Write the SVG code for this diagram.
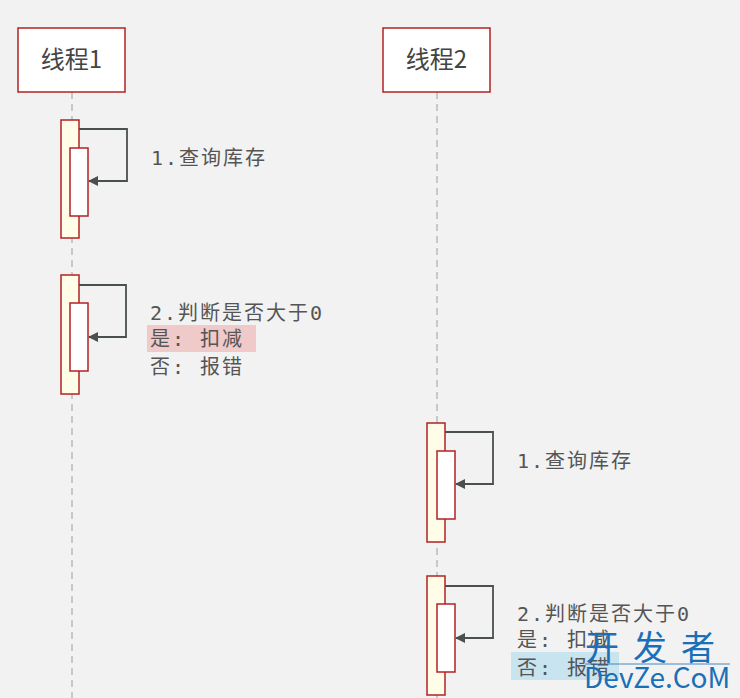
<svg xmlns="http://www.w3.org/2000/svg" width="740" height="698" viewBox="0 0 740 698">
<defs>
<style>
.head{fill:#fff;stroke:#b22222;stroke-width:1.5}
.ht{font-family:"Noto Sans CJK SC",sans-serif;font-size:24px;fill:#444}
.life{stroke:#bbb;stroke-width:1.5;stroke-dasharray:7,5}
.outer{fill:#fffde8;stroke:#b22222;stroke-width:1.5}
.inner{fill:#fff;stroke:#b22222;stroke-width:1.5}
.msg{fill:none;stroke:#4a4f4f;stroke-width:1.8}
.lbl{font-family:"DejaVu Sans Mono","Noto Sans CJK SC",monospace;font-size:20px;fill:#555;letter-spacing:2px}
.wm{font-family:"Noto Sans CJK SC","DejaVu Sans",sans-serif;fill:#1a6fb8}
</style>
<marker id="ah" markerWidth="10" markerHeight="10" refX="9" refY="5" orient="auto" markerUnits="userSpaceOnUse"><path d="M0,0 L10,5 L0,10 Z" fill="#4a4f4f"/></marker>
</defs>
<rect width="740" height="698" fill="#f2f2f2"/>
<g id="lifelines">
<line class="life" x1="72" y1="92" x2="72" y2="698"/>
<line class="life" x1="437" y1="92" x2="437" y2="698"/>
</g>
<g id="t1"><rect class="head" x="18" y="28" width="107" height="64"/><text class="ht" x="71.5" y="68" text-anchor="middle">线程1</text></g>
<g id="t2"><rect class="head" x="383" y="28" width="107" height="64"/><text class="ht" x="436.5" y="68" text-anchor="middle">线程2</text></g>
<g id="a1"><rect class="outer" x="61" y="120" width="18" height="118"/><rect class="inner" x="70" y="148" width="18" height="68"/></g>
<g id="a2"><rect class="outer" x="61" y="275" width="18" height="119"/><rect class="inner" x="70" y="303" width="18" height="68"/></g>
<g id="a3"><rect class="outer" x="427" y="423" width="18" height="119"/><rect class="inner" x="437" y="451" width="18" height="68"/></g>
<g id="a4"><rect class="outer" x="427" y="576" width="18" height="119"/><rect class="inner" x="437" y="604" width="18" height="68"/></g>
<g id="connectors">
<path class="msg" d="M79,129 H127 V181 H89" marker-end="url(#ah)"/>
<path class="msg" d="M79,285 H126 V337 H89" marker-end="url(#ah)"/>
<path class="msg" d="M445,432 H493 V484 H456" marker-end="url(#ah)"/>
<path class="msg" d="M445,586 H493 V638 H456" marker-end="url(#ah)"/>
</g>
<g id="labels">
<text class="lbl" x="151" y="165">1.查询库存</text>
<rect x="147" y="325" width="109" height="27" fill="#f0c9c9"/>
<text class="lbl" x="150" y="320">2.判断是否大于0</text>
<text class="lbl" x="150" y="346">是: 扣减</text>
<text class="lbl" x="150" y="374">否: 报错</text>
<text class="lbl" x="517" y="468">1.查询库存</text>
<rect x="511" y="652" width="108" height="28" fill="#c8e4ef"/>
<text class="lbl" x="517" y="621">2.判断是否大于0</text>
<text class="lbl" x="517" y="647">是: 扣减</text>
<text class="lbl" x="517" y="675">否: 报错</text>
</g>
<g id="watermark">
<text class="wm" x="585" y="660" font-size="34" letter-spacing="14">开发者</text>
<line x1="585" y1="664" x2="730" y2="664" stroke="#1a6fb8" stroke-width="0.8"/>
<text class="wm" x="584" y="688" font-size="28">DevZe.CoM</text>
</g>
</svg>
